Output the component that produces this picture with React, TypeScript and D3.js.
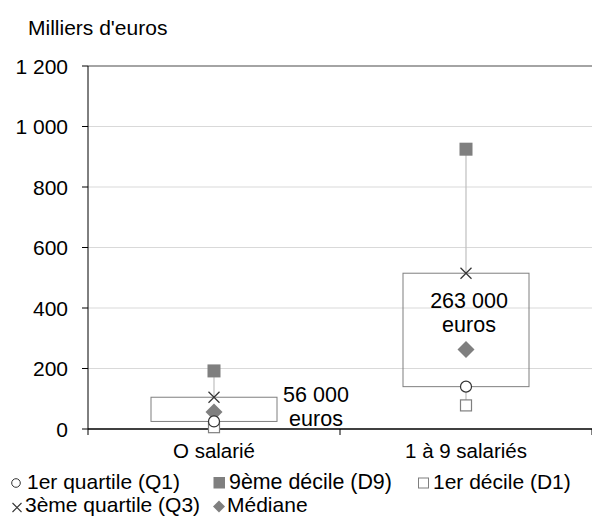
import React from "react";
import * as d3 from "d3";

const categories = ["O salarié", "1 à 9 salariés"];
const d1 = [6, 78];
const q1 = [25, 140];
const median = [56, 263];
const q3 = [105, 515];
const d9 = [192, 925];
const yTicks = [0, 200, 400, 600, 800, 1000, 1200];
const medianLabels = [["56 000", "euros"], ["263 000", "euros"]];

const W = 592, H = 516;
const FONT = "'Liberation Sans', Arial, sans-serif";
const GREY = "#7f7f7f";

function fmt(v: number) {
  return d3.format(",")(v).replace(/,/g, " ");
}

export default function App() {
  const y = d3.scaleLinear().domain([0, 1200]).range([429, 66]);
  const x = d3.scaleBand().domain(categories).range([88, 592]);
  const bw = x.bandwidth() / 2;
  const labelOffsets = [[102, -10], [3, -41]];
  return (
    <svg width={W} height={H} style={{ position: "absolute", left: 0, top: 0, fontFamily: FONT }}>
      <rect width={W} height={H} fill="#fff" />
      <text x={28} y={35} fontSize={21} fill="#000">Milliers d'euros</text>
      {yTicks.map((t) => (
        <g key={t}>
          {t > 0 && (
            <line x1={88} x2={592} y1={y(t)} y2={y(t)} stroke={t === 1200 ? "#868686" : "#d9d9d9"} strokeWidth={t === 1200 ? 1.5 : 1} />
          )}
          <line x1={82} x2={88} y1={y(t)} y2={y(t)} stroke="#000" />
          <text x={68} y={y(t) + 7.5} fontSize={21} textAnchor="end" fill="#000">{fmt(t)}</text>
        </g>
      ))}
      <line x1={88} x2={88} y1={y(1200)} y2={y(0)} stroke="#000" />
      <line x1={88} x2={592} y1={y(0)} y2={y(0)} stroke="#000" strokeWidth={1.3} />
      {[88, 340, 592].map((tx) => (
        <line key={tx} x1={tx} x2={tx} y1={y(0)} y2={y(0) + 6} stroke="#000" />
      ))}
      {categories.map((c, i) => {
        const cx = (x(c) as number) + x.bandwidth() / 2;
        return (
          <g key={c}>
            <text x={cx} y={458} fontSize={20.5} textAnchor="middle">{c}</text>
            <line x1={cx} x2={cx} y1={y(d9[i])} y2={y(q3[i])} stroke="#bfbfbf" strokeWidth={1.2} />
            <line x1={cx} x2={cx} y1={y(q1[i])} y2={y(d1[i])} stroke="#bfbfbf" strokeWidth={1.2} />
            <rect x={cx - bw / 2} y={y(q3[i])} width={bw} height={y(q1[i]) - y(q3[i])} fill="none" stroke={GREY} strokeWidth={1} />
            <rect x={cx - 6.5} y={y(d9[i]) - 6.5} width={13} height={13} fill={GREY} />
            <path d={`M${cx - 5.5},${y(q3[i]) - 5.5}L${cx + 5.5},${y(q3[i]) + 5.5}M${cx + 5.5},${y(q3[i]) - 5.5}L${cx - 5.5},${y(q3[i]) + 5.5}`} stroke="#333" strokeWidth={1.2} fill="none" />
            <path d={`M${cx},${y(median[i]) - 8.5}L${cx + 8.5},${y(median[i])}L${cx},${y(median[i]) + 8.5}L${cx - 8.5},${y(median[i])}Z`} fill={GREY} />
            <rect x={cx - 5.5} y={y(d1[i]) - 5.5} width={11} height={11} fill="#fff" stroke={GREY} strokeWidth={1.2} />
            <circle cx={cx} cy={y(q1[i])} r={5.5} fill="#fff" stroke="#333" strokeWidth={1.2} />
            <text x={cx + labelOffsets[i][0]} y={y(median[i]) + labelOffsets[i][1]} fontSize={21.5} textAnchor="middle">
              <tspan x={cx + labelOffsets[i][0]} dy={0}>{medianLabels[i][0]}</tspan>
              <tspan x={cx + labelOffsets[i][0]} dy={23.5}>{medianLabels[i][1]}</tspan>
            </text>
          </g>
        );
      })}
      {/* legend */}
      <g fontSize={21}>
        <circle cx={16} cy={483} r={4.3} fill="#fff" stroke="#333" strokeWidth={1} />
        <text x={27} y={489}>1er quartile (Q1)</text>
        <rect x={213.5} y={477} width={11.5} height={11.5} fill={GREY} />
        <text x={229} y={489} fontSize={21.4}>9ème décile (D9)</text>
        <rect x={418.5} y={478} width={10} height={10} fill="#fff" stroke={GREY} />
        <text x={433} y={489}>1er décile (D1)</text>
        <path d="M12.5,503L21.5,512M21.5,503L12.5,512" stroke="#333" strokeWidth={1.1} />
        <text x={25} y={511.5} fontSize={21}>3ème quartile (Q3)</text>
        <path d="M219,500.5L225,506.5L219,512.5L213,506.5Z" fill={GREY} />
        <text x={227} y={511.5} fontSize={21}>Médiane</text>
      </g>
    </svg>
  );
}
